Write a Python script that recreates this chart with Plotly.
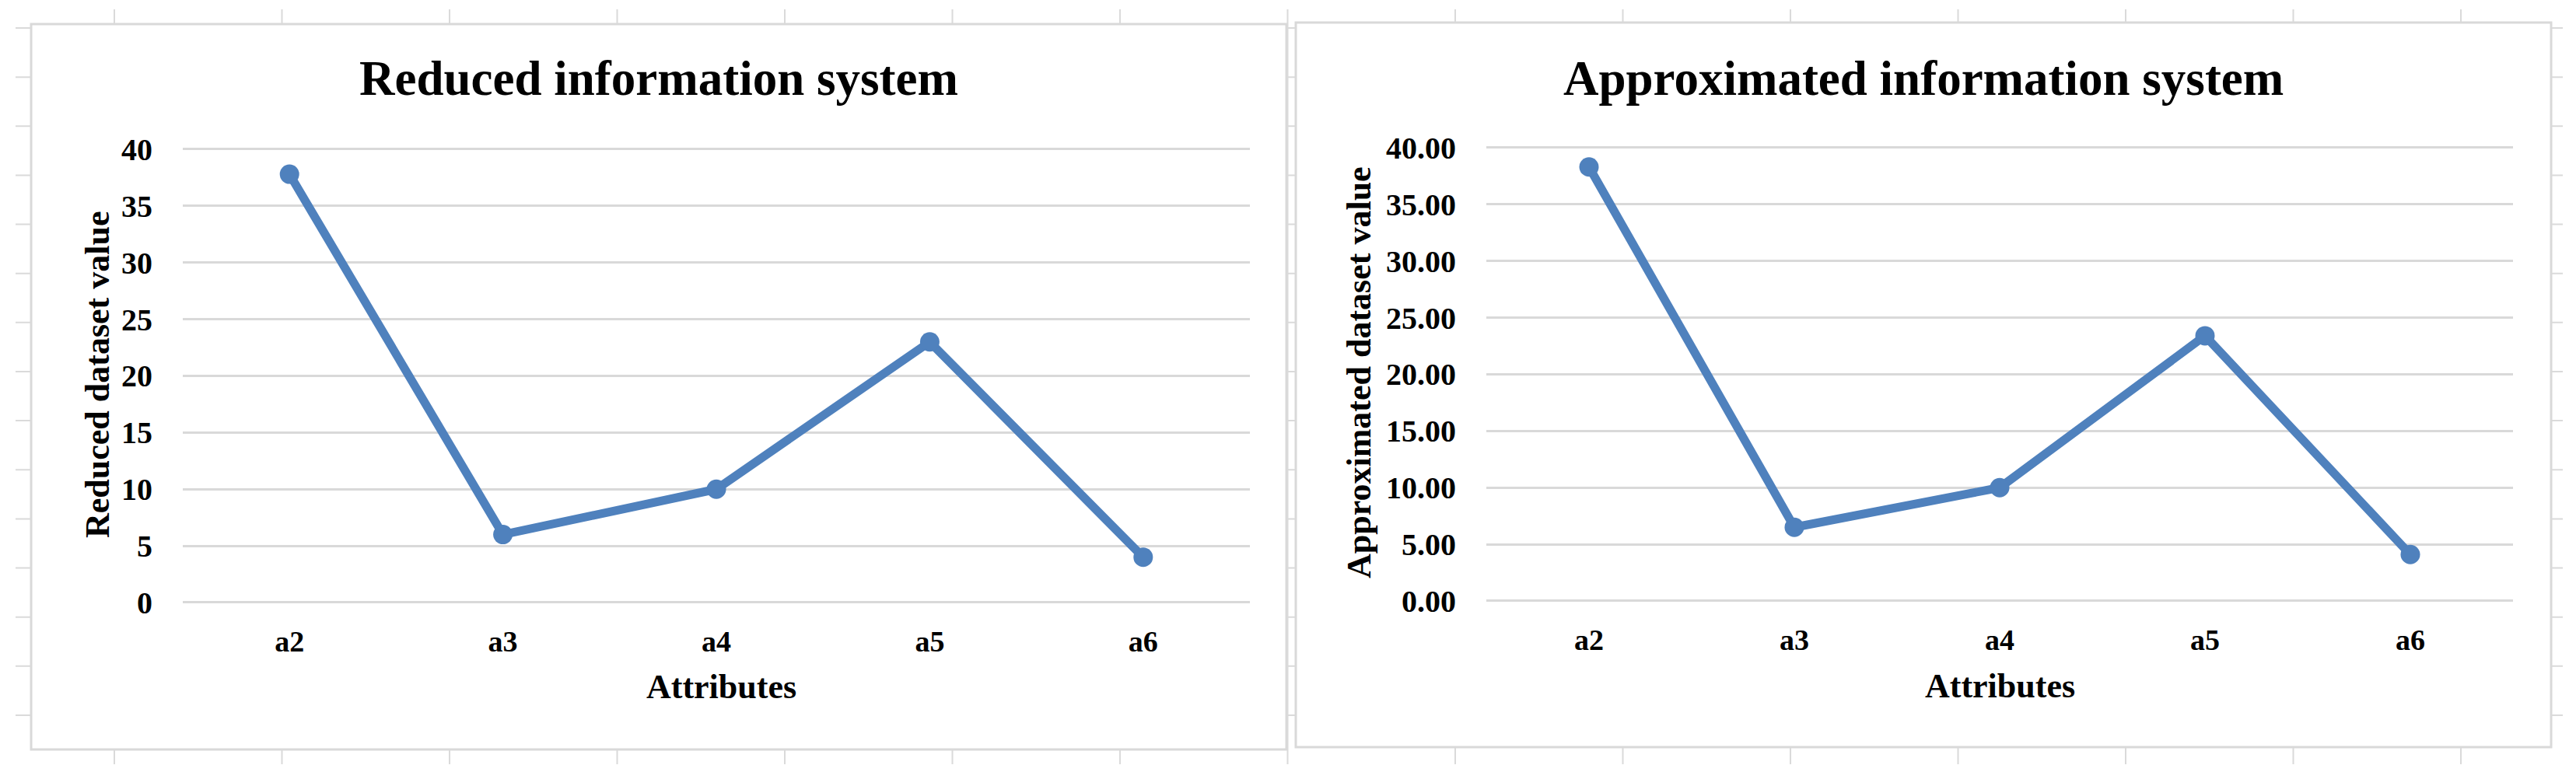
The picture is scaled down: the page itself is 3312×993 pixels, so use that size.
import plotly.graph_objects as go

# ---- data ----
categories = ["a2", "a3", "a4", "a5", "a6"]
reduced_values = [37.8, 6, 10, 23, 4]
approx_values = [38.3, 6.5, 10.0, 23.4, 4.1]
y_ticks = [0, 5, 10, 15, 20, 25, 30, 35, 40]

left_title = "Reduced information system"
right_title = "Approximated information system"
left_ytitle = "Reduced dataset value"
right_ytitle = "Approximated dataset value"
xtitle = "Attributes"

W, H = 3312, 993
OFF = 8  # default page body margin
FONT = "Liberation Serif, Times New Roman, serif"
LINE_COLOR = "#4F81BD"
GRID = "#D9D9D9"


def px(x):
    return (x - OFF) / W


def py(y):
    return 1 - (y - OFF) / H


fig = go.Figure()

fig.add_trace(go.Scatter(
    x=categories, y=reduced_values, mode="lines+markers",
    line=dict(color=LINE_COLOR, width=11),
    marker=dict(color=LINE_COLOR, size=25),
    xaxis="x", yaxis="y", showlegend=False, hoverinfo="x+y"))

fig.add_trace(go.Scatter(
    x=categories, y=approx_values, mode="lines+markers",
    line=dict(color=LINE_COLOR, width=11),
    marker=dict(color=LINE_COLOR, size=25),
    xaxis="x2", yaxis="y2", showlegend=False, hoverinfo="x+y"))

xtickfont = dict(family=FONT, size=38, color="#000000", weight="bold")
ytickfont = dict(family=FONT, size=40, color="#000000", weight="bold")

# y scale: 40 units over ~583 px -> pad range slightly so edge gridlines show
PAD = 0.25
UNIT = 583 / 40.0

common_x = dict(type="category", range=[-0.5, 4.5], showgrid=False, zeroline=False,
                showline=False, ticks="outside", ticklen=13, tickcolor="rgba(0,0,0,0)",
                tickfont=xtickfont, fixedrange=True, automargin=False)
common_y = dict(range=[-PAD, 40 + PAD], tickvals=y_ticks, showgrid=True, gridcolor=GRID,
                gridwidth=3, zeroline=False, showline=False, ticks="outside", ticklen=30,
                tickcolor="rgba(0,0,0,0)", tickfont=ytickfont, fixedrange=True,
                automargin=False)

padpx = PAD * UNIT
fig.update_layout(
    width=W, height=H,
    margin=dict(l=0, r=0, t=0, b=0, pad=0, autoexpand=False),
    paper_bgcolor="#FFFFFF", plot_bgcolor="rgba(0,0,0,0)",
    xaxis=dict(domain=[px(235), px(1607)], anchor="y", **common_x),
    yaxis=dict(domain=[py(775 + padpx), py(192 - padpx)], anchor="x", **common_y),
    xaxis2=dict(domain=[px(1911), px(3231)], anchor="y2", **common_x),
    yaxis2=dict(domain=[py(773 + padpx), py(190 - padpx)], anchor="x2", tickformat=".2f",
                **common_y),
)

# ---- spreadsheet background grid and chart boxes ----
shapes = []
col_x = [147 + 215.5 * k for k in range(15)]
row_y = [36 + 63.14 * k for k in range(15)]
for x in col_x:
    shapes.append(dict(type="line", xref="paper", yref="paper", layer="below",
                       x0=px(x), x1=px(x), y0=py(12), y1=py(983),
                       line=dict(color="#DADADA", width=2)))
for y in row_y:
    shapes.append(dict(type="line", xref="paper", yref="paper", layer="below",
                       x0=px(20), x1=px(3295), y0=py(y), y1=py(y),
                       line=dict(color="#DADADA", width=2)))
for (x0, y0, x1, y1) in [(40, 31, 1654, 964), (1666, 29, 3280, 961)]:
    shapes.append(dict(type="rect", xref="paper", yref="paper", layer="below",
                       x0=px(x0), x1=px(x1), y0=py(y1), y1=py(y0),
                       fillcolor="#FFFFFF", line=dict(color="#D9D9D9", width=3)))
fig.update_layout(shapes=shapes)

# ---- texts ----
ann = []
title_font = dict(family=FONT, size=63, color="#000000", weight="bold")
axis_font = dict(family=FONT, size=44, color="#000000", weight="bold")
ann.append(dict(text=left_title, x=px(847), y=py(101), xref="paper", yref="paper",
                showarrow=False, xanchor="center", yanchor="middle", font=title_font))
ann.append(dict(text=right_title, x=px(2473), y=py(101), xref="paper", yref="paper",
                showarrow=False, xanchor="center", yanchor="middle", font=title_font))
ann.append(dict(text=xtitle, x=px(927), y=py(883), xref="paper", yref="paper",
                showarrow=False, xanchor="center", yanchor="middle", font=axis_font))
ann.append(dict(text=xtitle, x=px(2571), y=py(882), xref="paper", yref="paper",
                showarrow=False, xanchor="center", yanchor="middle", font=axis_font))
ann.append(dict(text=left_ytitle, x=px(125), y=py(482), xref="paper", yref="paper",
                showarrow=False, xanchor="center", yanchor="middle", textangle=-90,
                font=axis_font))
ann.append(dict(text=right_ytitle, x=px(1748), y=py(479), xref="paper", yref="paper",
                showarrow=False, xanchor="center", yanchor="middle", textangle=-90,
                font=axis_font))
fig.update_layout(annotations=ann)

fig.write_html("out.html")
